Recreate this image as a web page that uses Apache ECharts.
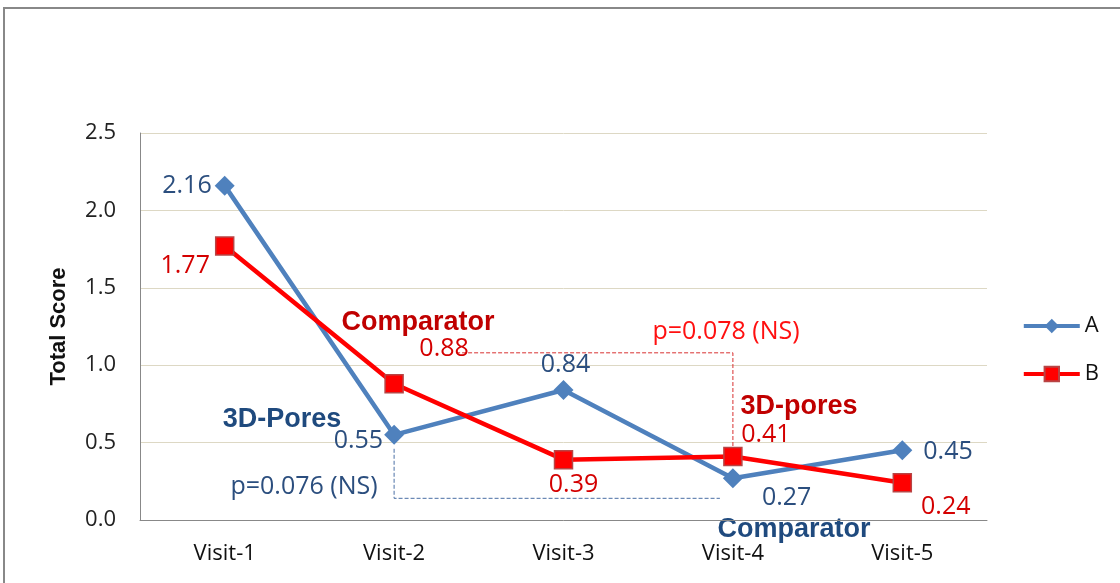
<!DOCTYPE html>
<html>
<head>
<meta charset="UTF-8">
<script src="https://cdn.jsdelivr.net/npm/echarts@6/dist/echarts.min.js"></script>
<title>Total Score</title>
<style type="text/css">
body{margin:0;padding:0;background:#fff;}
#main{width:1120px;height:583px;}
</style>
</head>
<body>
<div id="main"></div>
<script type="text/javascript">
var visits = ['Visit-1', 'Visit-2', 'Visit-3', 'Visit-4', 'Visit-5'];
var seriesA = [2.16, 0.55, 0.84, 0.27, 0.45];
var seriesB = [1.77, 0.88, 0.39, 0.41, 0.24];

var blue = '#4F81BD', red = '#FF0000';
var blueTxt = '#2B4E7E', redTxt = '#D40000';
var font = '"Open Sans", "DejaVu Sans", sans-serif';

// label placement for each point (position, offset)
var posA = [['left', [2, 0]], ['left', [4, 6]], ['top', [2, 2]], ['right', [14, 20]], ['right', [6, 2]]];
var posB = [['left', [0, 20]], ['top', [50, -8]], ['bottom', [10, -2]], ['top', [33, 6]], ['right', [4, 24]]];

function mk(vals, pos, color) {
  return vals.map(function (v, i) {
    return {value: v, label: {position: pos[i][0], offset: pos[i][1], color: color}};
  });
}

var myChart = echarts.init(document.getElementById('main'));

var option = {
  animation: false,
  grid: {left: 140, right: 133, top: 133, bottom: 63},
  legend: {
    orient: 'vertical', right: 16, top: 310, itemGap: 26,
    itemWidth: 56, itemHeight: 18,
    textStyle: {fontFamily: font, fontSize: 22, color: '#111'},
    lineStyle: {width: 4},
    data: ['A', 'B']
  },
  xAxis: {
    type: 'category', data: visits, boundaryGap: true,
    axisLine: {lineStyle: {color: '#888', width: 1}},
    axisTick: {show: false},
    axisLabel: {fontFamily: font, fontSize: 22, color: '#111', margin: 23}
  },
  yAxis: {
    type: 'value', min: 0, max: 2.5, interval: 0.5,
    name: 'Total Score', nameLocation: 'middle', nameGap: 70,
    nameTextStyle: {fontFamily: 'Liberation Sans, Arial', fontSize: 22, fontWeight: 'bold', color: '#111'},
    axisLine: {show: true, lineStyle: {color: '#888'}},
    axisTick: {show: false},
    axisLabel: {fontFamily: font, fontSize: 22, color: '#222', margin: 24,
      formatter: function (v) { return v.toFixed(1); }},
    splitLine: {lineStyle: {color: '#DDD8C4', width: 1}}
  },
  series: [
    {
      name: 'A', type: 'line', data: mk(seriesA, posA, blueTxt),
      symbol: 'diamond', symbolSize: 20,
      lineStyle: {color: blue, width: 4.5},
      itemStyle: {color: blue},
      label: {show: true, fontFamily: font, fontSize: 25, distance: 5}
    },
    {
      name: 'B', type: 'line', data: mk(seriesB, posB, redTxt),
      symbol: 'rect', symbolSize: 18,
      lineStyle: {color: red, width: 4.5},
      itemStyle: {color: red, borderColor: '#B84444', borderWidth: 1.5},
      label: {show: true, fontFamily: font, fontSize: 25, distance: 5}
    }
  ]
};

myChart.setOption(option);

// annotation brackets and notes
function px(cat, val) { return myChart.convertToPixel({gridIndex: 0}, [cat, val]); }
var b1 = px('Visit-2', 0.46), b2 = px('Visit-2', 0.14), b3 = px('Visit-4', 0.14);
var r1 = px('Visit-2', 1.08), r2 = px('Visit-4', 1.08), r3 = px('Visit-4', 0.45);
var boldFont = 'bold 27px "Liberation Sans", Arial, sans-serif';
var normFont = '25px ' + font;

function note(x, y, txt, f, c) {
  return {type: 'text', x: x, y: y, style: {text: txt, font: f, fill: c, align: 'center', verticalAlign: 'middle'}};
}

myChart.setOption({
  graphic: [
    {type: 'rect', shape: {x: 4, y: 8, width: 1130, height: 600}, style: {fill: 'none', stroke: '#888', lineWidth: 2}, silent: true},
    {type: 'polyline', shape: {points: [b1, b2, [b3[0] - 13, b3[1]]]}, style: {stroke: '#4A6FA5', lineWidth: 1, lineDash: [4, 2], fill: 'none'}},
    {type: 'polyline', shape: {points: [[r1[0] + 62, r1[1]], r2, r3]}, style: {stroke: '#D83030', lineWidth: 1, lineDash: [4, 2], fill: 'none'}},
    note(418, 323, 'Comparator', boldFont, '#C00000'),
    note(282, 420, '3D-Pores', boldFont, '#1F4A7E'),
    note(304, 487, 'p=0.076 (NS)', normFont, blueTxt),
    note(726, 332, 'p=0.078 (NS)', normFont, '#FF1010'),
    note(799, 407, '3D-pores', boldFont, '#C00000'),
    note(794, 530, 'Comparator', boldFont, '#1F4A7E')
  ]
});
</script>
</body>
</html>
